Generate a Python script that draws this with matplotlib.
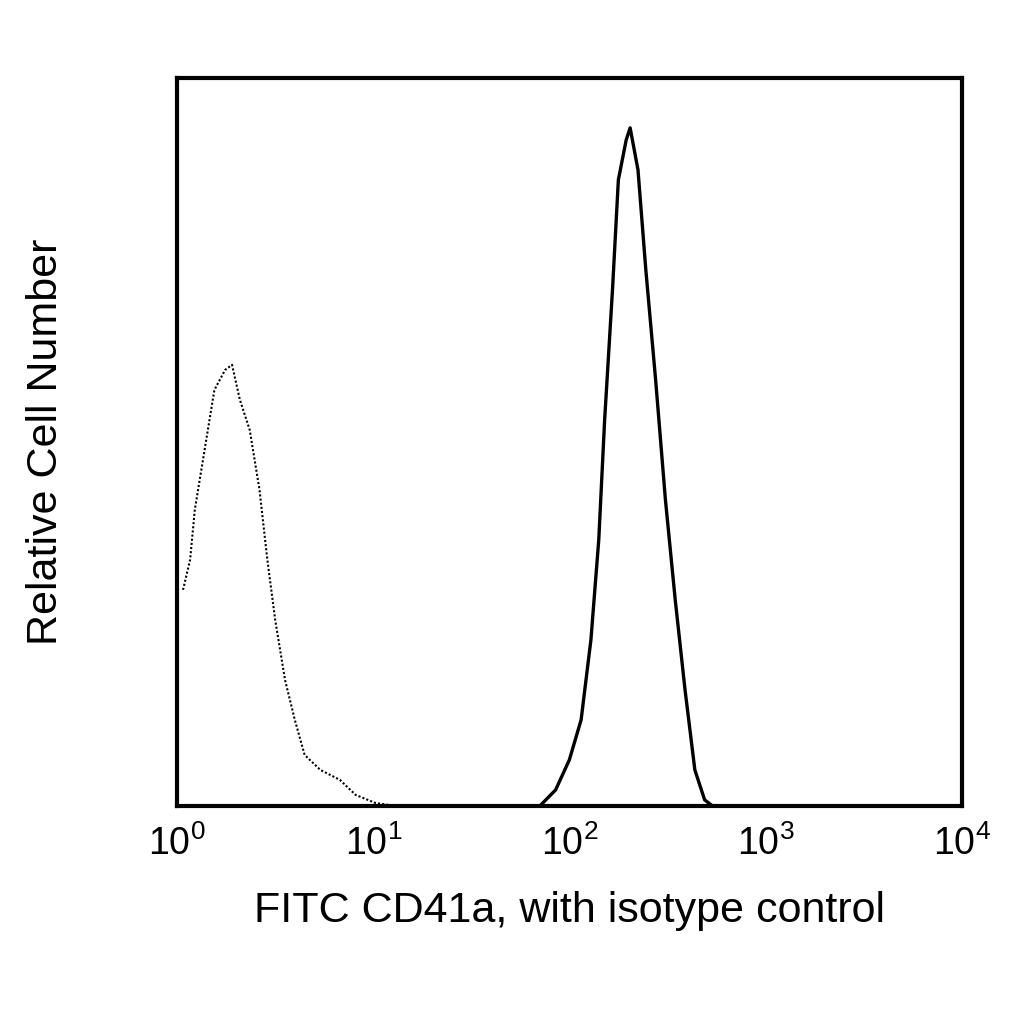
import matplotlib
matplotlib.use("Agg")
import matplotlib.pyplot as plt
import numpy as np

plt.rcParams['font.family'] = ['Liberation Sans', 'DejaVu Sans']
plt.rcParams['mathtext.fontset'] = 'custom'
plt.rcParams['mathtext.rm'] = 'Liberation Sans'
plt.rcParams['mathtext.it'] = 'Liberation Sans'
plt.rcParams['mathtext.bf'] = 'Liberation Sans'

# isotype control (dotted): log10 fluorescence, relative count
iso_log = [0.03, 0.066, 0.09, 0.14, 0.19, 0.245, 0.28, 0.32, 0.37, 0.42, 0.46, 0.5,
           0.55, 0.6, 0.65, 0.73, 0.83, 0.91, 1.01, 1.11]
iso_cnt = [216, 246, 296, 356, 416, 436, 441, 406, 376, 316, 246, 186,
           126, 86, 51, 36, 26, 11, 3, 0]

# FITC CD41a (solid)
cd_log = [1.85, 1.93, 2.0, 2.06, 2.11, 2.15, 2.18, 2.22, 2.25, 2.29, 2.31, 2.35,
          2.39, 2.44, 2.49, 2.54, 2.59, 2.64, 2.69, 2.73]
cd_cnt = [0, 16, 46, 86, 166, 266, 386, 516, 626, 666, 678, 636,
          536, 426, 306, 206, 116, 36, 6, 0]

xticks = [1, 10, 100, 1000, 10000]
xticklabels = [r'$\mathregular{10^{0}}$', r'$\mathregular{10^{1}}$', r'$\mathregular{10^{2}}$',
               r'$\mathregular{10^{3}}$', r'$\mathregular{10^{4}}$']

fig = plt.figure(figsize=(10.24, 10.24), dpi=100)
ax = fig.add_axes([0.173, 0.213, 0.766, 0.711])
ax.plot(10 ** np.array(iso_log), iso_cnt, color='black', lw=1.5, linestyle=(0, (1, 1)))
ax.plot(10 ** np.array(cd_log), cd_cnt, color='black', lw=2.4)
ax.set_xscale('log')
ax.set_xlim(1, 10000)
ax.set_ylim(0, 728)
ax.set_xticks(xticks)
ax.set_xticklabels(xticklabels, fontsize=27)
ax.minorticks_off()
ax.tick_params(axis='x', length=0, pad=14)
ax.set_yticks([])
for s in ax.spines.values():
    s.set_linewidth(3)
ax.set_xlabel('FITC CD41a, with isotype control', fontsize=31, labelpad=20)
ax.set_ylabel('Relative Cell Number', fontsize=31, labelpad=80)
fig.savefig('out.png', dpi=100)
